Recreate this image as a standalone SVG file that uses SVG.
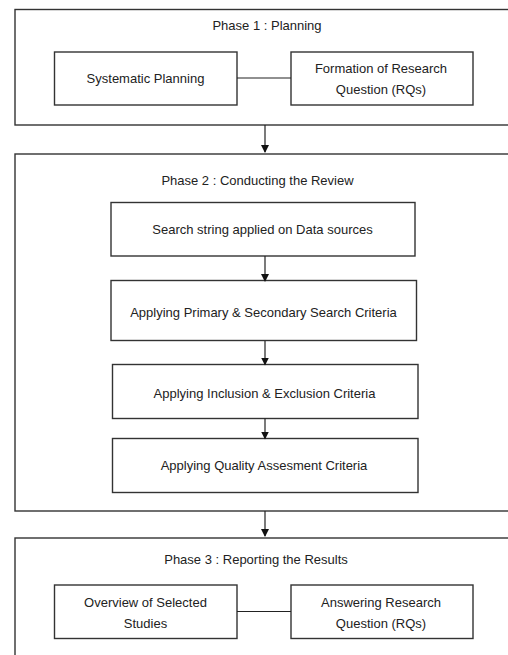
<svg xmlns="http://www.w3.org/2000/svg" width="508" height="655" viewBox="0 0 508 655">
<style>
.frame{fill:#fff;stroke:#333;stroke-width:1.4}
.box{fill:#fff;stroke:#333;stroke-width:1.4}
.t{font-family:"Liberation Sans",Arial,sans-serif;font-size:13px;fill:#222;text-anchor:middle}
.c{stroke:#222;stroke-width:1.2;fill:none}
</style>
<defs>
<marker id="ah" markerWidth="8" markerHeight="9" refX="7" refY="4" orient="auto" markerUnits="userSpaceOnUse">
<path d="M0,0 L8,4 L0,8 Z" fill="#111"/>
</marker>
</defs>
<rect width="508" height="655" fill="#fff"/>
<g id="phase1">
<rect class="frame" x="15" y="9.5" width="510" height="115.5"/>
<text class="t" x="267" y="30">Phase 1 : Planning</text>
</g>
<g id="systematic-planning">
<rect class="box" x="54.5" y="52" width="182.5" height="53"/>
<text class="t" x="145.5" y="82.5">Systematic Planning</text>
</g>
<g id="formation-rq">
<rect class="box" x="291" y="52" width="182" height="53"/>
<text class="t" x="381" y="72.5">Formation of Research</text>
<text class="t" x="381" y="93.5">Question (RQs)</text>
</g>
<g id="phase2">
<rect class="frame" x="15" y="154" width="510" height="357"/>
<text class="t" x="257.5" y="184.5">Phase 2 : Conducting the Review</text>
</g>
<g id="search-string">
<rect class="box" x="111" y="202.5" width="304" height="53.5"/>
<text class="t" x="262.5" y="233.5">Search string applied on Data sources</text>
</g>
<g id="primary-secondary">
<rect class="box" x="111" y="280.5" width="305.5" height="60"/>
<text class="t" x="263.5" y="316.5">Applying Primary &amp; Secondary Search Criteria</text>
</g>
<g id="inclusion-exclusion">
<rect class="box" x="112.5" y="364.5" width="305.5" height="54"/>
<text class="t" x="264.5" y="397.5">Applying Inclusion &amp; Exclusion Criteria</text>
</g>
<g id="quality">
<rect class="box" x="112.5" y="438.5" width="305.5" height="54"/>
<text class="t" x="264" y="469.5">Applying Quality Assesment Criteria</text>
</g>
<g id="phase3">
<rect class="frame" x="15" y="538" width="510" height="130"/>
<text class="t" x="256" y="563.5">Phase 3 : Reporting the Results</text>
</g>
<g id="overview">
<rect class="box" x="54.5" y="585" width="182.5" height="53.5"/>
<text class="t" x="145.5" y="606.5">Overview of Selected</text>
<text class="t" x="145.5" y="627.5">Studies</text>
</g>
<g id="answering-rq">
<rect class="box" x="291" y="585" width="182" height="53.5"/>
<text class="t" x="381" y="606.5">Answering Research</text>
<text class="t" x="381" y="627.5">Question (RQs)</text>
</g>
<g id="connectors">
<line class="c" x1="237" y1="78" x2="291" y2="78"/>
<line class="c" x1="237" y1="611.5" x2="291" y2="611.5"/>
<line class="c" x1="265" y1="125" x2="265" y2="152" marker-end="url(#ah)"/>
<line class="c" x1="265" y1="256" x2="265" y2="281" marker-end="url(#ah)"/>
<line class="c" x1="265" y1="341" x2="265" y2="364.5" marker-end="url(#ah)"/>
<line class="c" x1="265" y1="418.5" x2="265" y2="438.5" marker-end="url(#ah)"/>
<line class="c" x1="265" y1="511" x2="265" y2="536" marker-end="url(#ah)"/>
</g>
</svg>
